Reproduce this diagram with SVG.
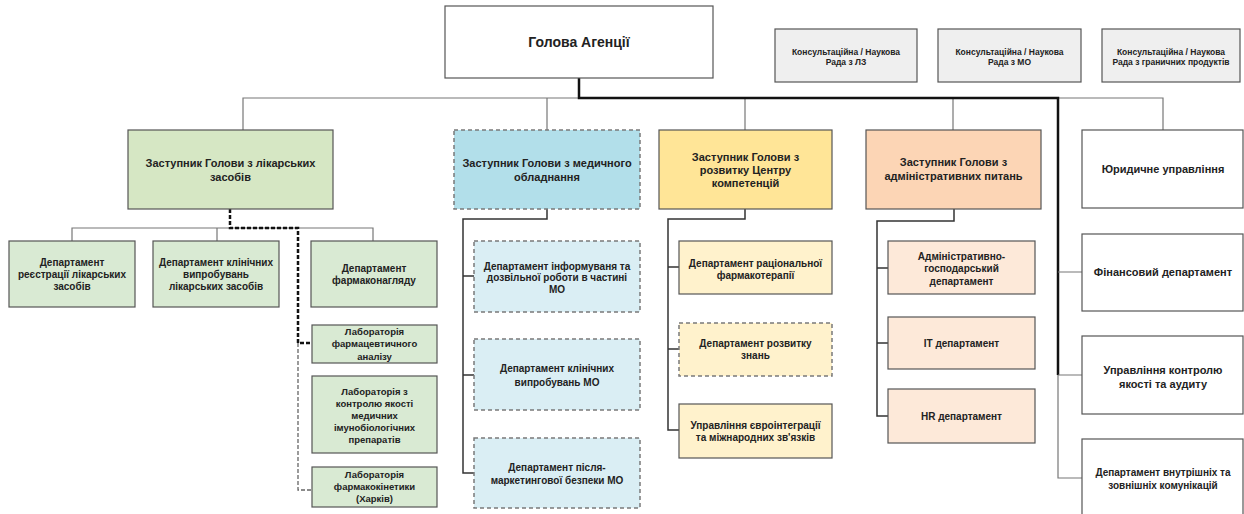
<svg xmlns="http://www.w3.org/2000/svg" width="1244" height="514" viewBox="0 0 1244 514">
<style>
text{font-family:"Liberation Sans",Arial,sans-serif;font-weight:bold;fill:#222;text-anchor:middle}
.t14{font-size:14px}.t11{font-size:11px}.t10{font-size:10px}.t9{font-size:9.5px}.t8{font-size:8.5px}
.box{stroke:#555;stroke-width:1.2}
.dash{stroke:#7a7a7a;stroke-width:1.5;stroke-dasharray:4 3}
.white{fill:#fff}.grey{fill:#efefef}
.g1{fill:#d6e7c4}.g2{fill:#d9ead3}
.b1{fill:#b2dfea}.b2{fill:#daeef4}
.y1{fill:#ffe597}.y2{fill:#fff2cc}
.o1{fill:#fcd5b5}.o2{fill:#fde9d9}
.thin{fill:none;stroke:#777;stroke-width:1.2}
.dark{fill:none;stroke:#333;stroke-width:1.5}
.trunk{fill:none;stroke:#111;stroke-width:2.5}
.bd{fill:none;stroke:#111;stroke-width:2.5;stroke-dasharray:4 2}
.gd{fill:none;stroke:#666;stroke-width:1.3;stroke-dasharray:4 2}
</style>
<rect width="1244" height="514" fill="#fff"/>
<g id="connectors">
  <path class="thin" d="M243 130V98H1163V130"/>
  <path class="thin" d="M547 98V130M745 98V130M953 98V130"/>
  <path class="trunk" d="M579 78V98H1058V375"/>
  <path class="thin" d="M1058 375V478H1082M1058 272H1082M1058 375H1082"/>
  <path class="thin" d="M72 241V228H373V241M217 228V241"/>
  <path class="bd" d="M230 209V228H298V343H312"/>
  <path class="gd" d="M298 343V490H312"/>
  <path class="dark" d="M547 209V219H463V473H474M463 276H474M463 375H474"/>
  <path class="dark" d="M745 209V219H668V430H679M668 267H679M668 349H679"/>
  <path class="dark" d="M954 209V221H877V416H888M877 268H888M877 343H888"/>
</g>
<g id="head"><rect class="box white" x="445" y="6" width="268" height="72"/><text class="t14" x="579" y="47">Голова Агенції</text></g>
<g id="council1"><rect class="box grey" x="775" y="29" width="142" height="53"/><text class="t8" x="846" y="55">Консультаційна / Наукова</text><text class="t8" x="846" y="65">Рада з ЛЗ</text></g>
<g id="council2"><rect class="box grey" x="938" y="29" width="143" height="53"/><text class="t8" x="1009.5" y="55">Консультаційна / Наукова</text><text class="t8" x="1009.5" y="65">Рада з МО</text></g>
<g id="council3"><rect class="box grey" x="1102" y="29" width="138" height="53"/><text class="t8" x="1171" y="55">Консультаційна / Наукова</text><text class="t8" x="1171" y="65">Рада з граничних продуктів</text></g>

<g id="dep-medicines"><rect class="box g1" x="128" y="130" width="205" height="79"/><text class="t11" x="230.5" y="167">Заступник Голови з лікарських</text><text class="t11" x="230.5" y="181">засобів</text></g>
<g id="dep-registration"><rect class="box g2" x="9" y="241" width="126" height="66"/><text class="t10" x="72" y="265.5">Департамент</text><text class="t10" x="72" y="277.5">реєстрації лікарських</text><text class="t10" x="72" y="289.5">засобів</text></g>
<g id="dep-clinical"><rect class="box g2" x="153" y="241" width="126" height="66"/><text class="t10" x="216" y="265.5">Департамент клінічних</text><text class="t10" x="216" y="277.5">випробувань</text><text class="t10" x="216" y="289.5">лікарських засобів</text></g>
<g id="dep-pharmacovigilance"><rect class="box g2" x="311" y="241" width="126" height="66"/><text class="t10" x="374" y="271.5">Департамент</text><text class="t10" x="374" y="283.5">фармаконагляду</text></g>
<g id="lab-analysis"><rect class="box g2" x="312" y="325" width="125" height="38"/><text class="t9" x="374.5" y="334.5">Лабораторія</text><text class="t9" x="374.5" y="347">фармацевтичного</text><text class="t9" x="374.5" y="359.5">аналізу</text></g>
<g id="lab-immuno"><rect class="box g2" x="312" y="376" width="125" height="77"/><text class="t9" x="374.5" y="395">Лабораторія з</text><text class="t9" x="374.5" y="407">контролю якості</text><text class="t9" x="374.5" y="419">медичних</text><text class="t9" x="374.5" y="431">імунобіологічних</text><text class="t9" x="374.5" y="443">препаратів</text></g>
<g id="lab-pk"><rect class="box g2" x="312" y="467" width="125" height="40"/><text class="t9" x="374.5" y="478">Лабораторія</text><text class="t9" x="374.5" y="490">фармакокінетики</text><text class="t9" x="374.5" y="502">(Харків)</text></g>

<g id="dep-devices"><rect class="dash b1" x="454" y="130" width="186" height="79"/><text class="t11" x="547" y="167">Заступник Голови з медичного</text><text class="t11" x="547" y="181">обладнання</text></g>
<g id="dev-info"><rect class="dash b2" x="474" y="241" width="166" height="71"/><text class="t10" x="557" y="269.5">Департамент інформуваня та</text><text class="t10" x="557" y="281">дозвільної роботи в частині</text><text class="t10" x="557" y="292.5">МО</text></g>
<g id="dev-clinical"><rect class="dash b2" x="474" y="339" width="166" height="71"/><text class="t10" x="557" y="371.5">Департамент клінічних</text><text class="t10" x="557" y="385.5">випробувань МО</text></g>
<g id="dev-post"><rect class="dash b2" x="474" y="438" width="166" height="70"/><text class="t10" x="557" y="470.5">Департамент після-</text><text class="t10" x="557" y="484">маркетингової безпеки МО</text></g>

<g id="dep-competence"><rect class="box y1" x="659" y="130" width="173" height="79"/><text class="t11" x="745.5" y="161">Заступник Голови з</text><text class="t11" x="745.5" y="174">розвитку Центру</text><text class="t11" x="745.5" y="187">компетенцій</text></g>
<g id="comp-rational"><rect class="box y2" x="679" y="241" width="153" height="53"/><text class="t10" x="755.5" y="266.5">Департамент раціональної</text><text class="t10" x="755.5" y="278.5">фармакотерапії</text></g>
<g id="comp-knowledge"><rect class="dash y2" x="679" y="323" width="153" height="53"/><text class="t10" x="755.5" y="346.5">Департамент розвитку</text><text class="t10" x="755.5" y="358.5">знань</text></g>
<g id="comp-euro"><rect class="box y2" x="679" y="404" width="153" height="54"/><text class="t10" x="755.5" y="428.5">Управління євроінтеграції</text><text class="t10" x="755.5" y="440.5">та міжнародних зв'язків</text></g>

<g id="dep-admin"><rect class="box o1" x="866" y="130" width="175" height="79"/><text class="t11" x="953.5" y="166">Заступник Голови з</text><text class="t11" x="953.5" y="180">адміністративних питань</text></g>
<g id="adm-household"><rect class="box o2" x="888" y="241" width="147" height="53"/><text class="t10" x="961.5" y="259.5">Адміністративно-</text><text class="t10" x="961.5" y="272">господарський</text><text class="t10" x="961.5" y="284.5">департамент</text></g>
<g id="adm-it"><rect class="box o2" x="888" y="317" width="147" height="52"/><text class="t10" x="961.5" y="346.5">IT департамент</text></g>
<g id="adm-hr"><rect class="box o2" x="888" y="389" width="147" height="54"/><text class="t10" x="961.5" y="419.5">HR департамент</text></g>

<g id="legal"><rect class="box white" x="1082" y="130" width="161" height="78"/><text class="t11" x="1163" y="173">Юридичне управління</text></g>
<g id="finance"><rect class="box white" x="1082" y="234" width="161" height="77"/><text class="t11" x="1163" y="276">Фінансовий департамент</text></g>
<g id="audit"><rect class="box white" x="1082" y="336" width="161" height="78"/><text class="t11" x="1163" y="374">Управління контролю</text><text class="t11" x="1163" y="388">якості та аудиту</text></g>
<g id="comms"><rect class="box white" x="1082" y="439" width="161" height="80"/><text class="t10" x="1163" y="475.5">Департамент внутрішніх та</text><text class="t10" x="1163" y="489">зовнішніх комунікацій</text></g>
</svg>
